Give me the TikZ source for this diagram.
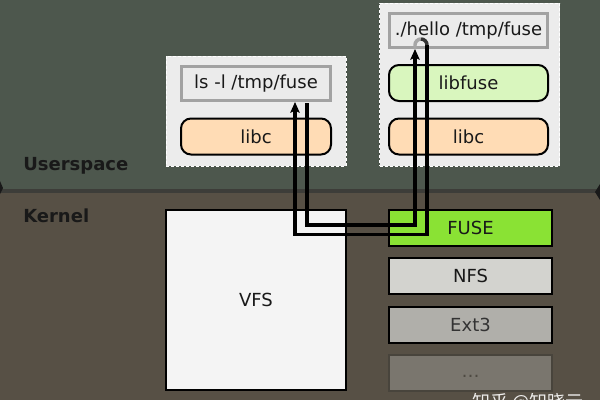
\documentclass[tikz,border=0pt]{standalone}
\usepackage{fontspec}
\setmainfont{DejaVu Sans}
\newfontfamily\cjk{Noto Sans CJK SC}
\usetikzlibrary{arrows.meta,calc}
\definecolor{usercol}{HTML}{4D574D}
\definecolor{kercol}{HTML}{575045}
\definecolor{sepcol}{HTML}{3D3D39}
\definecolor{contfill}{HTML}{ECECEC}
\definecolor{cmdfill}{HTML}{EBEBEB}
\definecolor{cmdborder}{HTML}{A2A2A2}
\definecolor{libcfill}{HTML}{FFDCB5}
\definecolor{libfusefill}{HTML}{D9F6BE}
\definecolor{vfsfill}{HTML}{F4F4F4}
\definecolor{fusefill}{HTML}{8AE234}
\definecolor{nfsfill}{HTML}{D3D3CF}
\definecolor{extfill}{HTML}{B0AFAA}
\definecolor{dotsfill}{HTML}{7A766E}
\definecolor{dotsborder}{HTML}{48443C}
\definecolor{dotstext}{HTML}{4E4A42}
\begin{document}
\begin{tikzpicture}[x=0.75pt,y=-0.75pt,
  txt/.style={font=\fontsize{13.5pt}{16pt}\selectfont, text=black!90},
  lbl/.style={font=\fontsize{13.5pt}{16pt}\selectfont\bfseries, text=black!90, anchor=base west, inner sep=0},
  cont/.style={fill=contfill, draw=white, line width=0.75pt, dash pattern=on 2.25pt off 1.5pt, inner sep=0, minimum width=135pt},
  cmdbox/.style={txt, fill=cmdfill, draw=cmdborder, line width=2.25pt, minimum height=25.5pt, inner sep=0},
  libbox/.style={txt, draw=black, line width=1.5pt, rounded corners=7.5pt, minimum height=27pt, inner sep=0},
  fsbox/.style={txt, draw=black, line width=1.5pt, minimum width=122.25pt, minimum height=27pt, inner sep=0},
  conn/.style={line width=2.6pt, black},
  tip/.style={-{Stealth[length=8pt,width=7pt,inset=1.5pt]}}
]
\useasboundingbox (0,0) rectangle (600,400);
% backgrounds
\fill[usercol] (0,0) rectangle (600,190);
\fill[kercol] (0,190) rectangle (600,400);
\fill[sepcol] (0,189) rectangle (600,193);
\fill[black!90] (0,181) -- (3,188) -- (0,194) -- cycle;
\fill[black!90] (600,184) -- (595,192) -- (600,200) -- cycle;
% labels
\node[lbl] (user) at (23,170) {Userspace};
\node[lbl] (kern) at (23,222.5) {Kernel};
% userspace containers
\node[cont, minimum height=82.5pt] (contL) at (256,111) {};
\node[cont, minimum height=122.25pt] (contR) at (469.5,84.5) {};
\node[cmdbox, minimum width=111.75pt] (ls) at (256,83.5) {ls -l /tmp/fuse};
\node[libbox, fill=libcfill, minimum width=112.5pt] (libcL) at (256,136.5) {libc};
\node[cmdbox, minimum width=118.5pt] (hello) at (468.5,30.5) {./hello /tmp/fuse};
\node[libbox, fill=libfusefill, minimum width=119.25pt] (libfuse) at (468.5,83) {libfuse};
\node[libbox, fill=libcfill, minimum width=119.25pt] (libcR) at (468.5,136.5) {libc};
% kernel
\node[txt, draw=black, line width=1.5pt, fill=vfsfill, minimum width=135pt, minimum height=135pt, inner sep=0] (vfs) at (256,300) {VFS};
\node[fsbox, fill=fusefill] (fuse) at (470.5,228) {FUSE};
\node[fsbox, fill=nfsfill] (nfs) at (470.5,276) {NFS};
\node[fsbox, fill=extfill, text=black!80] (ext) at (470.5,324.5) {Ext3};
\node[fsbox, fill=dotsfill, draw=dotsborder, text=dotstext] (dots) at (470.5,373) {\vphantom{x}…};
% connectors
\coordinate (i1) at ($(ls.south)+(51,1)$);
\coordinate (i2) at ($(hello.south)+(-53.5,0)$);
\coordinate (o1) at ($(hello.south)+(-41.5,-4)$);
\coordinate (o2) at ($(ls.south)+(39,0)$);
\draw[conn, tip] (i1) -- ++(0,122) -| (i2);
\draw[conn, tip] (o1) -- ++(0,189.5) -| (o2);
\draw[conn, black!35] (i2) -- ++(0,-4) arc[start angle=180,end angle=270,radius=6];
\draw[conn, black!80] ($(i2)+(6,-10)$) arc[start angle=270,end angle=360,radius=6] -- (o1);
% watermark
\node[font=\cjk\fontsize{13.5pt}{16pt}\selectfont, text=white, opacity=0.9, anchor=base west, inner sep=0] (wm) at (472,408) {知乎 @知晓云};
\end{tikzpicture}
\end{document}
